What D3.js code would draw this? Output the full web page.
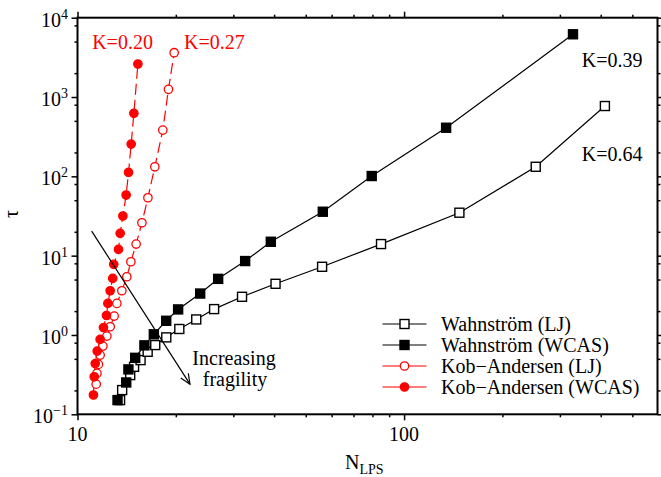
<!DOCTYPE html>
<html lang="en">
<head>
<meta charset="utf-8">
<script src="https://d3js.org/d3.v7.min.js"></script>
<title>tau vs N_LPS</title>
<style>
body { margin: 0; background: #fff; }
svg { display: block; font-family: "Liberation Serif", "Times New Roman", serif; }
</style>
</head>
<body>
<svg width="661" height="477"></svg>
<script>
// --- data ---
var wahnLJ_N   = [13.5, 13.7, 14.5, 14.9, 15.6, 16.4, 17.3, 18.7, 20.5, 23.1, 26.2, 31.9, 40.4, 56.1, 85.0, 147.7, 253, 412];
var wahnLJ_tau = [0.151, 0.202, 0.312, 0.397, 0.482, 0.614, 0.746, 0.933, 1.19, 1.57, 2.12, 3.03, 4.42, 7.24, 14.0, 34.8, 132, 770];

var wahnWCAS_N   = [13.26, 14.1, 14.32, 15.02, 16.03, 17.13, 18.69, 20.33, 23.75, 26.96, 32.61, 39.08, 56.38, 79.6, 134.5, 329];
var wahnWCAS_tau = [0.151, 0.252, 0.368, 0.515, 0.74, 1.02, 1.51, 2.10, 3.33, 5.10, 8.55, 14.97, 35.8, 100.9, 410, 6180];

var kaLJ_N   = [11.41, 11.47, 11.59, 11.73, 11.96, 12.30, 12.59, 12.95, 13.20, 13.67, 14.16, 14.57, 15.12, 15.75, 16.43, 17.25, 18.25, 18.99, 19.77];
var kaLJ_tau = [0.240, 0.328, 0.426, 0.558, 0.724, 0.968, 1.27, 1.73, 2.50, 3.61, 5.42, 8.38, 14.0, 26.0, 53.7, 132, 383, 1250, 3619];

var kaWCAS_N   = [11.19, 11.25, 11.33, 11.49, 11.73, 12.01, 12.27, 12.39, 12.59, 12.82, 12.91, 13.35, 13.51, 13.77, 14.09, 14.33, 14.60, 14.88, 15.31];
var kaWCAS_tau = [0.175, 0.297, 0.436, 0.627, 0.88, 1.24, 1.76, 2.50, 3.61, 5.17, 7.77, 12.0, 19.1, 31.6, 58.1, 112, 255, 623, 2607];

var seriesLabels = ["Wahnstr\u00f6m (LJ)", "Wahnstr\u00f6m (WCAS)", "Kob\u2212Andersen (LJ)", "Kob\u2212Andersen (WCAS)"];

var xMajor = [10, 100];
var xMinor = [20, 30, 40, 50, 60, 70, 80, 90, 200, 300, 400, 500];
var yMajor = [0.1, 1, 10, 100, 1000, 10000];
var yMinor = [0.2, 0.5, 0.8, 2, 5, 8, 20, 50, 80, 200, 500, 800, 2000, 5000, 8000];
var yExp   = ["\u22121", "0", "1", "2", "3", "4"];

var kLabels = [
  {t: "K=0.20", N: 11.09, tau: 4030, c: "#ff0000"},
  {t: "K=0.27", N: 21.2,  tau: 4030, c: "#ff0000"},
  {t: "K=0.39", N: 350,   tau: 2425, c: "#000"},
  {t: "K=0.64", N: 350,   tau: 154,  c: "#000"}
];
var arrowFrom = [11.05, 20.4], arrowTo = [22.1, 0.24];

// --- layout ---
var plotL = 77.5, plotR = 657.5, plotT = 17.7, plotB = 414.3;
var font = 20;

var svg = d3.select("svg");
var x = d3.scaleLog().domain([10, 597]).range([plotL, plotR]);
var y = d3.scaleLog().domain([0.1, 10000]).range([plotB, plotT]);

function zip(a, b) { return a.map(function(v, i) { return [v, b[i]]; }); }

var series = [
  {pts: zip(wahnLJ_N, wahnLJ_tau),     color: "#000",    shape: "square", fill: false, dash: null},
  {pts: zip(wahnWCAS_N, wahnWCAS_tau), color: "#000",    shape: "square", fill: true,  dash: null},
  {pts: zip(kaLJ_N, kaLJ_tau),         color: "#ff0000", shape: "circle", fill: false, dash: "11,5"},
  {pts: zip(kaWCAS_N, kaWCAS_tau),     color: "#ff0000", shape: "circle", fill: true,  dash: "11,5"}
];

// axes: ticks on all four sides, pointing out
function tickAxis(axisFn, scale, vals, size, tr) {
  var g = svg.append("g").attr("transform", tr)
    .call(axisFn(scale).tickValues(vals).tickSize(size).tickSizeOuter(0).tickFormat(""));
  g.select(".domain").remove();
  g.selectAll("line").attr("stroke", "#000").attr("stroke-width", 1.5);
  return g;
}
tickAxis(d3.axisBottom, x, xMajor, 6, "translate(0," + plotB + ")");
tickAxis(d3.axisBottom, x, xMinor, 3, "translate(0," + plotB + ")");
tickAxis(d3.axisTop, x, xMajor, 6, "translate(0," + plotT + ")");
tickAxis(d3.axisTop, x, xMinor, 3, "translate(0," + plotT + ")");
tickAxis(d3.axisLeft, y, yMajor, 6, "translate(" + plotL + ",0)");
tickAxis(d3.axisLeft, y, yMinor, 3, "translate(" + plotL + ",0)");
tickAxis(d3.axisRight, y, yMajor, 6, "translate(" + plotR + ",0)");
tickAxis(d3.axisRight, y, yMinor, 3, "translate(" + plotR + ",0)");

// tick labels
svg.selectAll(".xl").data(xMajor).enter().append("text")
  .attr("x", function(d) { return x(d); }).attr("y", 441)
  .attr("text-anchor", "middle").attr("font-size", font).text(function(d) { return d; });

var yl = svg.selectAll(".yl").data(yMajor).enter().append("text")
  .attr("x", 68).attr("y", function(d) { return y(d) + 9; })
  .attr("text-anchor", "end").attr("font-size", font);
yl.append("tspan").text("10");
yl.append("tspan").attr("dy", -8).attr("font-size", 14).text(function(d, i) { return yExp[i]; });

// axis titles
var xt = svg.append("text").attr("x", 345).attr("y", 469).attr("font-size", font);
xt.append("tspan").text("N");
xt.append("tspan").attr("dy", 5).attr("font-size", 14).text("LPS");

svg.append("text").attr("transform", "translate(18,214) rotate(-90)")
  .attr("text-anchor", "middle").attr("font-size", font).text("\u03c4");

// series
var line = d3.line().x(function(d) { return x(d[0]); }).y(function(d) { return y(d[1]); });

series.forEach(function(s) {
  svg.append("path").attr("d", line(s.pts)).attr("fill", "none")
    .attr("stroke", s.color).attr("stroke-width", 1.2)
    .attr("stroke-dasharray", s.dash);
});

function drawMarker(g, s, cx, cy) {
  if (s.shape === "square") {
    g.append("rect").attr("x", cx - 4.5).attr("y", cy - 4.5).attr("width", 9).attr("height", 9)
      .attr("fill", s.fill ? s.color : "#fff").attr("stroke", s.color).attr("stroke-width", 1.4);
  } else {
    g.append("circle").attr("cx", cx).attr("cy", cy).attr("r", 4.2)
      .attr("fill", s.fill ? s.color : "#fff").attr("stroke", s.color).attr("stroke-width", 1.3);
  }
}

series.forEach(function(s) {
  var g = svg.append("g");
  s.pts.forEach(function(p) { drawMarker(g, s, x(p[0]), y(p[1])); });
});

// K annotations
svg.selectAll(".kl").data(kLabels).enter().append("text")
  .attr("x", function(d) { return x(d.N); }).attr("y", function(d) { return y(d.tau); })
  .attr("fill", function(d) { return d.c; }).attr("font-size", font)
  .text(function(d) { return d.t; });

// fragility arrow
var ax1 = x(arrowFrom[0]), ay1 = y(arrowFrom[1]), ax2 = x(arrowTo[0]), ay2 = y(arrowTo[1]);
svg.append("line").attr("x1", ax1).attr("y1", ay1).attr("x2", ax2).attr("y2", ay2)
  .attr("stroke", "#000").attr("stroke-width", 1.2);
var ang = Math.atan2(ay2 - ay1, ax2 - ax1), hl = 11, hw = 0.42;
svg.append("path")
  .attr("d", "M" + (ax2 - hl * Math.cos(ang - hw)) + "," + (ay2 - hl * Math.sin(ang - hw)) +
             "L" + ax2 + "," + ay2 +
             "L" + (ax2 - hl * Math.cos(ang + hw)) + "," + (ay2 - hl * Math.sin(ang + hw)))
  .attr("fill", "none").attr("stroke", "#000").attr("stroke-width", 1.2);

svg.append("text").attr("x", 234).attr("y", 365).attr("text-anchor", "middle")
  .attr("font-size", font).text("Increasing");
svg.append("text").attr("x", 235).attr("y", 386).attr("text-anchor", "middle")
  .attr("font-size", font).text("fragility");

// legend
var leg = svg.append("g");
series.forEach(function(s, i) {
  var cy = 324 + i * 21;
  leg.append("line").attr("x1", 382.5).attr("x2", 426.5).attr("y1", cy).attr("y2", cy)
    .attr("stroke", s.color).attr("stroke-width", 1.2);
  drawMarker(leg, s, 404.5, cy);
  leg.append("text").attr("x", 441).attr("y", cy + 6.5).attr("font-size", font).text(seriesLabels[i]);
});

// frame
svg.append("rect").attr("x", plotL).attr("y", plotT).attr("width", plotR - plotL).attr("height", plotB - plotT)
  .attr("fill", "none").attr("stroke", "#000").attr("stroke-width", 2);
</script>
</body>
</html>
